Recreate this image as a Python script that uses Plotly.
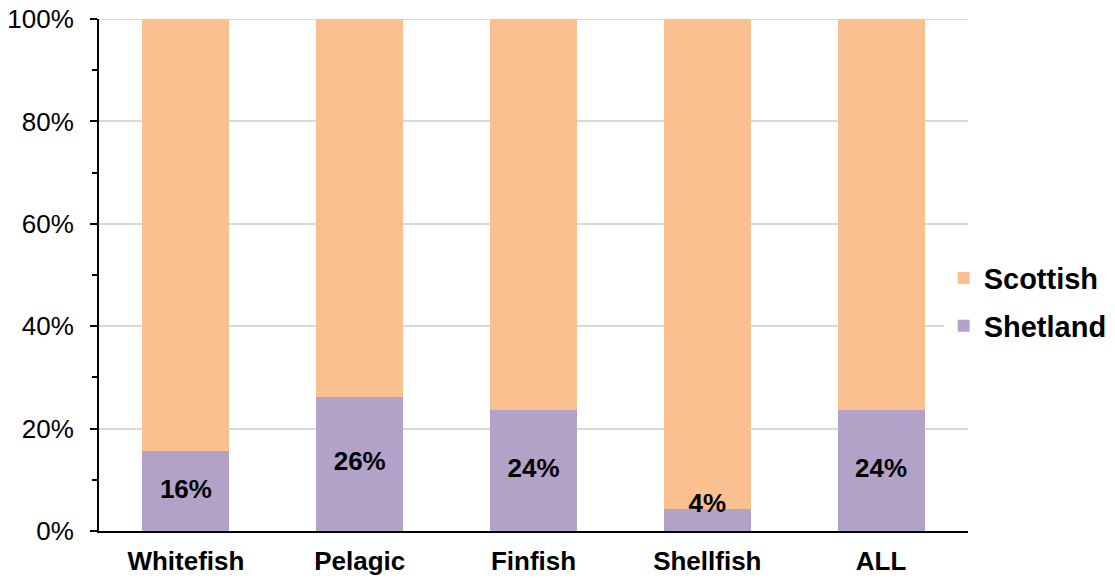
import plotly.graph_objects as go

categories = ["Whitefish", "Pelagic", "Finfish", "Shellfish", "ALL"]
shetland = [0.156, 0.262, 0.236, 0.043, 0.236]
scottish = [0.844, 0.738, 0.764, 0.957, 0.764]
labels = ["16%", "26%", "24%", "4%", "24%"]
y_ticks = [0, 0.2, 0.4, 0.6, 0.8, 1.0]
y_ticktext = ["0%", "20%", "40%", "60%", "80%", "100%"]

shetland_color = "#B3A2C7"
scottish_color = "#FAC090"
grid_color = "#D9D9D9"
font_family = "Liberation Sans, Arial, sans-serif"

fig = go.Figure()
fig.add_trace(go.Bar(x=categories, y=shetland, name="Shetland",
                     marker=dict(color=shetland_color, line=dict(width=0)),
                     legendgroup="a", legendrank=2, hoverinfo="skip"))
fig.add_trace(go.Bar(x=categories, y=scottish, name="Scottish",
                     marker=dict(color=scottish_color, line=dict(width=0)),
                     legendgroup="b", legendrank=1, hoverinfo="skip"))

# data labels sit in the middle of the Shetland segment (kept inside the plot for tiny ones)
label_y = [max(v / 2, 0.05) for v in shetland]
fig.add_trace(go.Scatter(x=categories, y=label_y, mode="text", text=labels,
                         textfont=dict(family=font_family, size=26, color="black", weight="bold"),
                         showlegend=False, hoverinfo="skip"))

# top gridline (plotly drops the one sitting on the range edge)
fig.add_shape(type="line", xref="paper", x0=0, x1=1, yref="y", y0=1, y1=1,
              line=dict(color=grid_color, width=2), layer="below")

# page body adds an 8px offset, so the figure is a bit smaller than the window
fig.update_layout(
    width=1107, height=570,
    barmode="stack", bargap=0.5,
    plot_bgcolor="white", paper_bgcolor="white",
    margin=dict(l=91, r=147, t=11, b=47, autoexpand=False),
    font=dict(family=font_family, color="black"),
    legend=dict(x=0.972, xanchor="left", y=0.447, yanchor="middle",
                traceorder="grouped", tracegroupgap=7,
                font=dict(size=29, weight="bold"), itemwidth=30),
    showlegend=True,
)
fig.update_xaxes(showline=True, linecolor="black", linewidth=2, ticks="",
                 tickfont=dict(size=26, weight="bold"), ticklabelstandoff=6,
                 showgrid=False, automargin=False)
fig.update_yaxes(range=[0, 1], tickmode="array", tickvals=y_ticks, ticktext=y_ticktext,
                 showline=True, linecolor="black", linewidth=2,
                 ticks="outside", ticklen=7, tickwidth=2, tickcolor="black",
                 tickfont=dict(size=26), ticklabelstandoff=11, automargin=False,
                 ticklabeloverflow="allow",
                 showgrid=True, gridcolor=grid_color, gridwidth=2, zeroline=False,
                 minor=dict(dtick=0.1, ticks="outside", ticklen=5, tickwidth=2,
                            tickcolor="black", showgrid=False))

fig.write_html("out.html")
